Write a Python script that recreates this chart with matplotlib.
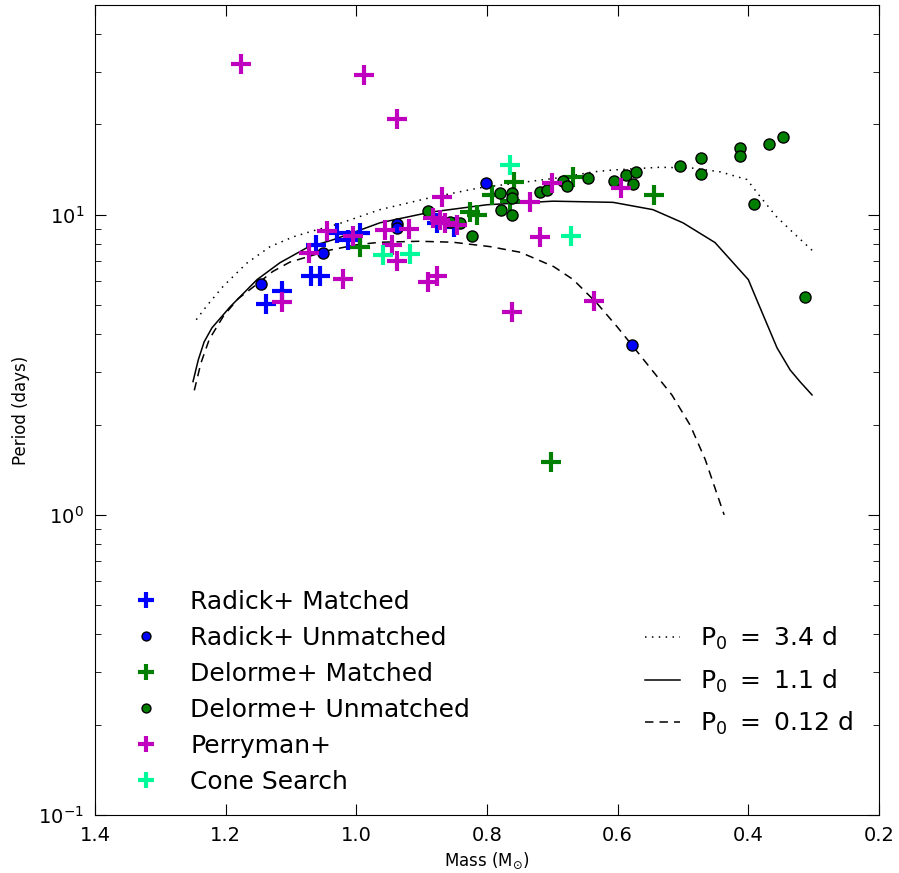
""" Rotation period against stellar mass, with spin-down model tracks """
import matplotlib.pyplot as plt
from matplotlib.legend import Legend

# Radick+ stars matched to our sample (mass in Msun, period in days)
radick_matched_mass = [1.138, 1.114, 1.069, 1.056, 1.062, 1.030, 1.012, 0.995, 0.877, 0.850]
radick_matched_period = [5.04, 5.59, 6.23, 6.23, 7.94, 8.70, 8.25, 8.71, 9.40, 9.07]

radick_unmatched_mass = [1.146, 1.051, 0.937, 0.938, 0.802, 0.578]
radick_unmatched_period = [5.89, 7.45, 9.34, 9.06, 12.8, 3.69]

delorme_matched_mass = [0.995, 0.826, 0.816, 0.793, 0.758, 0.765, 0.668, 0.544, 0.702]
delorme_matched_period = [7.80, 10.2, 10.0, 11.6, 12.9, 11.1, 13.4, 11.6, 1.50]

delorme_unmatched_mass = [0.891, 0.857, 0.841, 0.823, 0.780, 0.762, 0.762, 0.779,
                          0.762, 0.719, 0.708, 0.684, 0.677, 0.645, 0.606, 0.587,
                          0.572, 0.577, 0.505, 0.472, 0.472, 0.412, 0.412, 0.369,
                          0.347, 0.391, 0.314]
delorme_unmatched_period = [10.3, 9.49, 9.40, 8.50, 11.8, 11.8, 11.4, 10.4,
                            9.95, 11.95, 12.1, 13.0, 12.5, 13.3, 13.0, 13.6,
                            13.9, 12.7, 14.5, 15.4, 13.7, 16.7, 15.7, 17.2,
                            18.1, 10.9, 5.34]

perryman_mass = [1.177, 0.988, 0.938, 1.114, 1.072, 1.045, 1.021, 1.005, 0.956,
                 0.919, 0.945, 0.938, 0.891, 0.876, 0.869, 0.882, 0.872, 0.864,
                 0.846, 0.734, 0.701, 0.719, 0.762, 0.636, 0.595]
perryman_period = [31.8, 29.3, 20.9, 5.14, 7.45, 8.80, 6.12, 8.51, 8.91,
                   9.00, 7.94, 7.04, 5.95, 6.23, 11.5, 9.73, 9.64, 9.40,
                   9.26, 11.0, 12.8, 8.43, 4.76, 5.17, 12.3]

cone_mass = [0.765, 0.959, 0.918, 0.672]
cone_period = [14.7, 7.36, 7.40, 8.50]

# model tracks for three initial periods
track_34_mass = [1.245, 1.229, 1.204, 1.168, 1.132, 1.096, 1.061, 1.030, 0.964,
                 0.887, 0.811, 0.724, 0.688, 0.637, 0.607, 0.535, 0.484, 0.443,
                 0.402, 0.382, 0.357, 0.331, 0.302]
track_34_period = [4.47, 4.97, 5.77, 6.89, 7.83, 8.45, 8.91, 9.28, 10.4,
                   11.4, 12.3, 13.0, 13.3, 13.9, 14.1, 14.4, 14.3, 13.9,
                   13.1, 11.5, 9.86, 8.70, 7.60]

track_11_mass = [1.250, 1.242, 1.233, 1.221, 1.193, 1.152, 1.117, 1.075, 1.036,
                 1.000, 0.964, 0.887, 0.800, 0.699, 0.607, 0.546, 0.500, 0.451,
                 0.400, 0.387, 0.356, 0.336, 0.321, 0.3025]
track_11_period = [2.78, 3.28, 3.77, 4.20, 4.94, 6.08, 6.92, 7.78, 8.25,
                   8.80, 9.40, 10.2, 10.8, 11.1, 11.0, 10.4, 9.40, 8.08,
                   6.08, 5.20, 3.60, 3.04, 2.78, 2.51]

track_012_mass = [1.248, 1.238, 1.225, 1.203, 1.181, 1.158, 1.128, 1.102, 1.040,
                  1.000, 0.964, 0.903, 0.852, 0.795, 0.749, 0.698, 0.668, 0.632,
                  0.601, 0.566, 0.517, 0.489, 0.466, 0.437]
track_012_period = [2.60, 3.20, 3.85, 4.61, 5.25, 5.74, 6.47, 6.95, 7.63,
                    7.94, 8.10, 8.16, 8.10, 7.83, 7.50, 6.72, 6.08, 5.08,
                    4.24, 3.41, 2.51, 1.99, 1.53, 1.00]

blue = "#0000ff"
green = "#007f00"
magenta = "#bf00bf"
cone_col = "#00fa9a"

plt.rcParams["font.family"] = "DejaVu Sans"

fig = plt.figure(figsize=(8.99, 8.73), dpi=100)
ax = fig.add_axes([95 / 899, 58 / 873, 784 / 899, 810 / 873])

cross = dict(marker="+", linestyle="None", markersize=14, markeredgewidth=3)
dot = dict(marker="o", linestyle="None", markersize=8, markeredgecolor="k",
           markeredgewidth=1)

l1, = ax.plot(track_34_mass, track_34_period, color="k", ls=":", lw=1.1,
              dashes=(1, 3.5))
l2, = ax.plot(track_11_mass, track_11_period, color="k", ls="-", lw=1.1)
l3, = ax.plot(track_012_mass, track_012_period, color="k", ls="--", lw=1.1,
              dashes=(5.5, 4))

h1, = ax.plot(radick_matched_mass, radick_matched_period, color=blue, **cross)
h3, = ax.plot(delorme_matched_mass, delorme_matched_period, color=green, **cross)
h4, = ax.plot(delorme_unmatched_mass, delorme_unmatched_period,
              markerfacecolor=green, **dot)
h2, = ax.plot(radick_unmatched_mass, radick_unmatched_period,
              markerfacecolor=blue, **dot)
h5, = ax.plot(perryman_mass, perryman_period, color=magenta, **cross)
h6, = ax.plot(cone_mass, cone_period, color=cone_col, **cross)

ax.set_yscale("log")
ax.set_xlim(1.4, 0.2)
ax.set_ylim(0.1, 50)
ax.set_xticks([1.4, 1.2, 1.0, 0.8, 0.6, 0.4, 0.2])
ax.set_xticklabels(["1.4", "1.2", "1.0", "0.8", "0.6", "0.4", "0.2"])
ax.tick_params(which="both", direction="in", top=True, right=True,
               labelsize=14, pad=8)
ax.tick_params(which="major", length=8)
ax.tick_params(which="minor", length=4)
ax.set_xlabel(r"Mass (M$_{\odot}$)", fontsize=12)
ax.set_ylabel("Period (days)", fontsize=12, labelpad=6)

leg1 = ax.legend([h1, h2, h3, h4, h5, h6],
                 ["Radick+ Matched", "Radick+ Unmatched", "Delorme+ Matched",
                  "Delorme+ Unmatched", "Perryman+", "Cone Search"],
                 loc="lower left", bbox_to_anchor=(0.011, -0.002), frameon=False,
                 fontsize=18, numpoints=1, markerscale=0.8, labelspacing=0.48,
                 handletextpad=0.96, handlelength=1.6)
leg2 = Legend(ax, [l1, l2, l3],
              [r"P$_0$ $=$ 3.4 d", r"P$_0$ $=$ 1.1 d", r"P$_0$ $=$ 0.12 d"],
              loc="lower right", bbox_to_anchor=(0.996, 0.068), frameon=False,
              fontsize=18, labelspacing=0.62, handlelength=1.4,
              handletextpad=0.8)
ax.add_artist(leg2)

fig.savefig("out.png", dpi=100)
